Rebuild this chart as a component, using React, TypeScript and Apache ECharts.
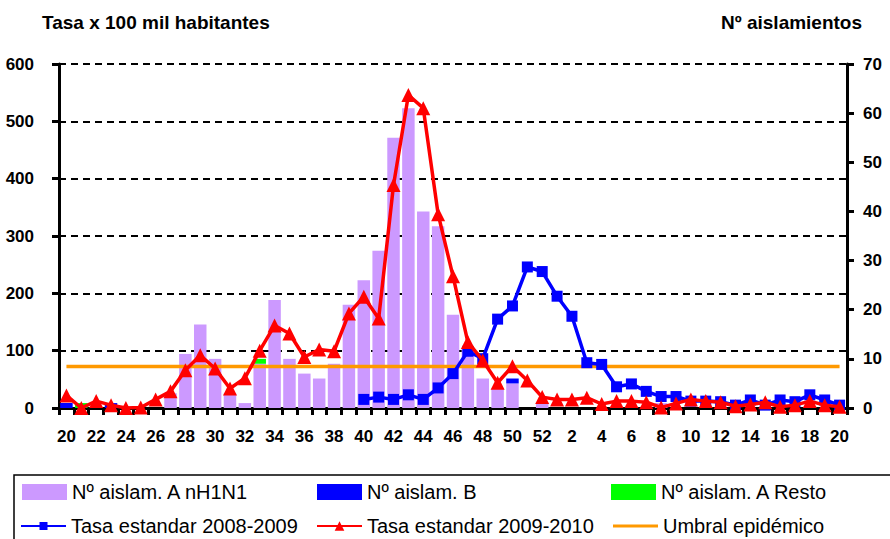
import React, { useEffect, useRef } from 'react';
import * as echarts from 'echarts';

const weeks = [
  '20','21','22','23','24','25','26','27','28','29','30','31','32','33','34','35','36','37','38','39',
  '40','41','42','43','44','45','46','47','48','49','50','51','52',
  '1','2','3','4','5','6','7','8','9','10','11','12','13','14','15','16','17','18','19','20',
];

const aislH1N1 = [
  0, 0, 0, 0, 0, 0, 0, 3, 11, 17, 10, 3, 1, 9, 22, 10, 7, 6, 9, 21,
  26, 32, 55, 61, 40, 37, 19, 12, 6, 4, 5, 0, 1,
  0, 0, 0, 0, 0, 0, 0, 1, 0, 0, 0, 0, 0, 0, 0, 0, 0, 0, 0, 0,
];

const aislB = [
  1, 0, 0, 1, 0, 0, 0, 0, 0, 0, 0, 0, 0, 0, 0, 0, 0, 0, 0, 0,
  0, 0, 0, 0, 0, 0, 0, 0, 0, 0, 1, 0, 0,
  0, 0, 0, 0, 0, 0, 0, 0, 0, 0, 0, 0, 0, 0, 0, 0, 0, 0, 0, 0,
];

const aislResto = [
  0, 1, 0, 0, 0, 0, 0, 0, 0, 0, 0, 0, 0, 1, 0, 0, 0, 0, 0, 0,
  0, 0, 0, 0, 0, 0, 0, 0, 0, 0, 0, 0, 0,
  0, 0, 0, 0, 0, 0, 0, 0, 0, 0, 0, 0, 0, 0, 0, 0, 0, 0, 0, 0,
];

const tasa0809 = [
  null, null, null, null, null, null, null, null, null, null, null, null, null, null, null, null, null, null, null, null,
  15, 19, 15, 23, 15, 35, 60, 99, 86, 155, 178, 246, 238,
  195, 160, 79, 76, 37, 42, 29, 20, 20, 12, 12, 11, 5, 14, 5, 14, 11, 23, 14, 5,
];

const tasa0910 = [
  22, 0, 12, 5, 0, 1, 15, 29, 66, 92, 69, 34, 52, 100, 144, 130, 89, 102, 99, 165,
  194, 156, 389, 546, 523, 338, 230, 115, 83, 44, 73, 48, 19,
  15, 15, 18, 7, 12, 12, 10, 1, 8, 15, 12, 10, 3, 6, 10, 2, 5, 12, 5, 2,
];

const umbralValue = 72.5;
const umbral = weeks.map(() => umbralValue);

const names = {
  h1n1: 'Nº aislam. A nH1N1',
  b: 'Nº aislam. B',
  resto: 'Nº aislam. A Resto',
  t0809: 'Tasa estandar 2008-2009',
  t0910: 'Tasa estandar 2009-2010',
  umbral: 'Umbral epidémico',
};

const textFont = "'Liberation Sans', Arial, sans-serif";

export default function App() {
  const ref = useRef<HTMLDivElement>(null);

  useEffect(() => {
    if (!ref.current) return;
    const chart = echarts.init(ref.current, null, { renderer: 'svg' });

    const legendBase = {
      orient: 'horizontal',
      padding: 0,
      itemGap: 0,
      selectedMode: false,
      textStyle: { color: '#000', fontSize: 20, fontFamily: textFont },
    };

    const axisLabelStyle = {
      color: '#000',
      fontSize: 17,
      fontWeight: 'bold',
      fontFamily: textFont,
    };

    const option: any = {
      animation: false,
      backgroundColor: '#fff',
      grid: { left: 59, right: 43, top: 64, bottom: 131, containLabel: false },
      xAxis: {
        type: 'category',
        data: weeks,
        boundaryGap: true,
        axisLine: { lineStyle: { color: '#000', width: 3 } },
        axisTick: { show: true, interval: 0, length: 7, lineStyle: { color: '#000', width: 3 } },
        axisLabel: { ...axisLabelStyle, interval: 1, margin: 20 },
        splitLine: { show: false },
      },
      yAxis: [
        {
          type: 'value',
          min: 0,
          max: 600,
          interval: 100,
          position: 'left',
          axisLine: { show: true, lineStyle: { color: '#000', width: 3 } },
          axisTick: { show: true, length: 7, lineStyle: { color: '#000', width: 3 } },
          axisLabel: { ...axisLabelStyle, margin: 25 },
          splitLine: { show: true, lineStyle: { color: '#000', width: 2, type: [7, 5] } },
        },
        {
          type: 'value',
          min: 0,
          max: 70,
          interval: 10,
          position: 'right',
          axisLine: { show: true, lineStyle: { color: '#000', width: 3 } },
          axisTick: { show: true, length: 7, lineStyle: { color: '#000', width: 3 } },
          axisLabel: { ...axisLabelStyle, margin: 16 },
          splitLine: { show: false },
        },
      ],
      legend: [
        { ...legendBase, data: [{ name: names.h1n1, icon: 'rect' }], left: 22, top: 482, itemWidth: 45, itemHeight: 16 },
        { ...legendBase, data: [{ name: names.b, icon: 'rect' }], left: 317, top: 482, itemWidth: 45, itemHeight: 16 },
        { ...legendBase, data: [{ name: names.resto, icon: 'rect' }], left: 611, top: 482, itemWidth: 45, itemHeight: 16 },
        { ...legendBase, data: [names.t0809], left: 20, top: 516, itemWidth: 45, itemHeight: 10 },
        { ...legendBase, data: [names.t0910], left: 316, top: 516, itemWidth: 45, itemHeight: 12 },
        { ...legendBase, data: [{ name: names.umbral, icon: 'rect' }], left: 613, top: 516, itemWidth: 45, itemHeight: 3 },
      ],
      graphic: [
        {
          type: 'text',
          left: 42,
          top: 13,
          style: { text: 'Tasa x 100 mil habitantes', font: `bold 19px ${textFont}`, fill: '#000' },
        },
        {
          type: 'text',
          left: 721,
          top: 13,
          style: { text: 'Nº aislamientos', font: `bold 19px ${textFont}`, fill: '#000' },
        },
        {
          type: 'rect',
          shape: { x: 14, y: 475, width: 900, height: 100 },
          style: { fill: 'none', stroke: '#000', lineWidth: 1.5 },
          z: -1,
        },
      ],
      series: [
        {
          name: names.h1n1,
          type: 'bar',
          yAxisIndex: 1,
          stack: 'aisl',
          data: aislH1N1,
          barCategoryGap: '16%',
          itemStyle: { color: '#CC99FF' },
        },
        {
          name: names.b,
          type: 'bar',
          yAxisIndex: 1,
          stack: 'aisl',
          data: aislB,
          itemStyle: { color: '#0000FF' },
        },
        {
          name: names.resto,
          type: 'bar',
          yAxisIndex: 1,
          stack: 'aisl',
          data: aislResto,
          itemStyle: { color: '#00FF00' },
        },
        {
          name: names.umbral,
          type: 'line',
          yAxisIndex: 0,
          data: umbral,
          symbol: 'none',
          lineStyle: { color: '#FF9900', width: 3.5 },
          itemStyle: { color: '#FF9900' },
          z: 3,
        },
        {
          name: names.t0809,
          type: 'line',
          yAxisIndex: 0,
          data: tasa0809,
          symbol: 'rect',
          symbolSize: 11,
          showAllSymbol: true,
          lineStyle: { color: '#0000FF', width: 3.5 },
          itemStyle: { color: '#0000FF' },
          z: 4,
        },
        {
          name: names.t0910,
          type: 'line',
          yAxisIndex: 0,
          data: tasa0910,
          symbol: 'triangle',
          symbolSize: 14,
          showAllSymbol: true,
          lineStyle: { color: '#FF0000', width: 3.5 },
          itemStyle: { color: '#FF0000' },
          z: 5,
        },
      ],
    };

    chart.setOption(option);
    return () => chart.dispose();
  }, []);

  return <div ref={ref} style={{ width: 890, height: 539, position: 'absolute', left: 0, top: 0 }} />;
}
